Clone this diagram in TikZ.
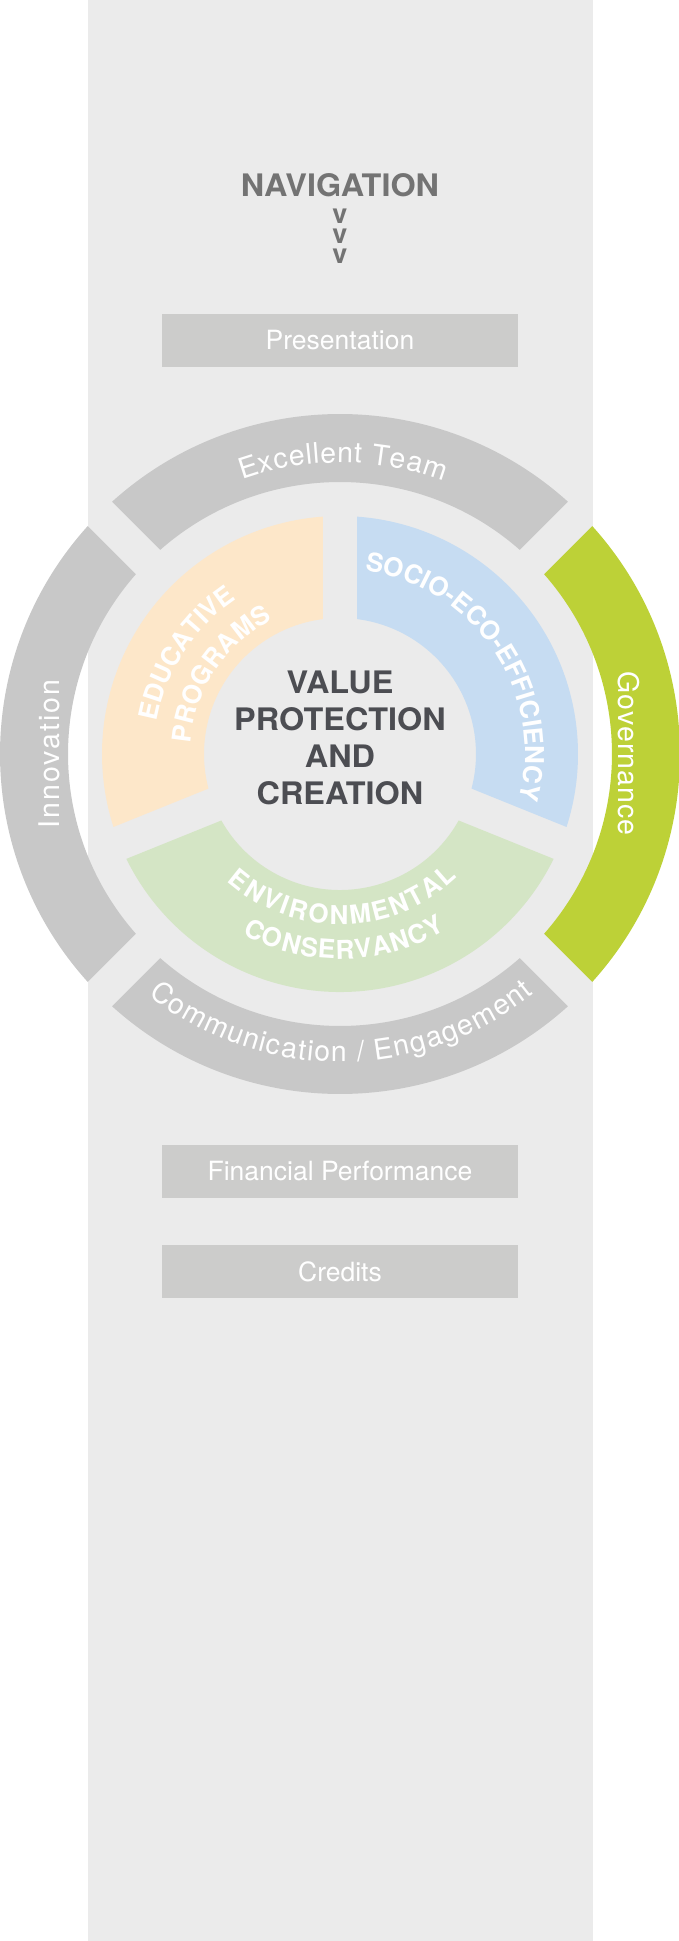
\documentclass[tikz,border=0pt]{standalone}
\usepackage{fontspec}
\setmainfont{TeX Gyre Heros}
\newfontfamily\wideheros[FakeStretch=1.045]{TeX Gyre Heros}
\usetikzlibrary{decorations.text}
\definecolor{colbg}{HTML}{EBEBEB}
\definecolor{ringgray}{HTML}{C8C8C8}
\definecolor{boxgray}{HTML}{CCCCCB}
\definecolor{govgreen}{HTML}{BDD137}
\definecolor{edupeach}{HTML}{FDE7C9}
\definecolor{socioblue}{HTML}{C6DCF2}
\definecolor{envgreen}{HTML}{D4E5C5}
\definecolor{coredark}{HTML}{4C4D52}
\definecolor{navgray}{HTML}{737373}
\newcommand{\ringfont}{\fontsize{28.5}{28.5}\selectfont}
\newcommand{\innerfont}{\bfseries\fontsize{26}{26}\selectfont}
\newcommand{\RingSeg}[6]{%
  \pgfmathsetmacro{\SegAo}{asin(#6/#5)}%
  \pgfmathsetmacro{\SegAi}{asin(#6/#4)}%
  \fill[#1] ({#2+\SegAo}:#5) arc[start angle={#2+\SegAo}, end angle={#3-\SegAo}, radius=#5]
    -- ({#3-\SegAi}:#4) arc[start angle={#3-\SegAi}, end angle={#2+\SegAi}, radius=#4] -- cycle;
}
\tikzset{
  navbox/.style={fill=boxgray, minimum width=356pt, minimum height=52.7pt, inner sep=0pt,
    text=white, font=\fontsize{26.5}{26.5}\selectfont},
  navtitle/.style={text=navgray, font=\wideheros\bfseries\fontsize{31}{31}\selectfont, inner sep=0pt, anchor=base},
  chevron/.style={text=navgray, font=\bfseries\fontsize{27}{27}\selectfont, inner sep=0pt, anchor=base},
  coretext/.style={text=coredark, font=\wideheros\bfseries\fontsize{31}{31}\selectfont, inner sep=0pt, anchor=base},
  arctext/.style={decorate, decoration={text along path, text color=white, text align={fit to path}, text={#1}}},
  arctextc/.style={decorate, decoration={text along path, text color=white, text align={center}, text={#1}}}
}
\begin{document}
\begin{tikzpicture}[x=1pt,y=1pt]
\useasboundingbox (-340,-1187) rectangle (338,754);
\fill[white] (-340,-1187) rectangle (338,754);
\fill[colbg] (-252,-1187) rectangle (253,754);

% navigation header
\node[navtitle] (nav) at (0,557.3) {NAVIGATION};
\node[chevron] (v1) at (0,530) {v};
\node[chevron] (v2) at (0,510.7) {v};
\node[chevron] (v3) at (0,490.7) {v};

% menu boxes
\node[navbox] (pres) at (0,413.7) {Presentation};
\node[navbox] (fin) at (0,-417.35) {Financial Performance};
\node[navbox] (cred) at (0,-517.35) {Credits};

% outer ring
\RingSeg{ringgray}{45}{135}{272}{340}{17.3}
\RingSeg{ringgray}{135}{225}{272}{340}{17.3}
\RingSeg{ringgray}{225}{315}{272}{340}{17.3}
\RingSeg{govgreen}{-45}{45}{272}{340}{17.3}

% inner ring
\RingSeg{edupeach}{90}{202}{136}{238}{17.2}
\RingSeg{envgreen}{202}{338}{136}{238}{17.2}
\RingSeg{socioblue}{-22}{90}{136}{238}{17.2}

% outer ring labels
\path[arctext={|\ringfont|Excellent Team}] (109.6:291.5) arc[start angle=109.6, end angle=69.2, radius=291.5];
\path[arctext={|\ringfont|Communication / Engagement}] (231.5:308) arc[start angle=231.5, end angle=308.9, radius=308];
\path[arctext={|\ringfont|Innovation}] (-280.7,-74) -- (-280.7,74);
\path[arctext={|\ringfont|Governance}] (278,82.3) -- (278,-81);

% inner ring labels
\path[arctextc={|\innerfont|EDUCATIVE}] (181.75:186) arc[start angle=181.75, end angle=111.75, radius=186];
\path[arctext={|\innerfont|PROGRAMS}] (176:150) arc[start angle=176, end angle=116.5, radius=150];
\path[arctextc={|\innerfont|SOCIO-ECO-EFFICIENCY}] (92:185) arc[start angle=92, end angle=-24, radius=185];
\path[arctext={|\innerfont|ENVIRONMENTAL}] (228.5:170.5) arc[start angle=228.5, end angle=313.7, radius=170.5];
\path[arctext={|\innerfont|CONSERVANCY}] (241.5:205) arc[start angle=241.5, end angle=301, radius=205];

% core text
\node[coretext] (val1) at (0,61) {VALUE};
\node[coretext] (val2) at (0,23.3) {PROTECTION};
\node[coretext] (val3) at (0,-13.5) {AND};
\node[coretext] (val4) at (0,-50) {CREATION};
\end{tikzpicture}
\end{document}
